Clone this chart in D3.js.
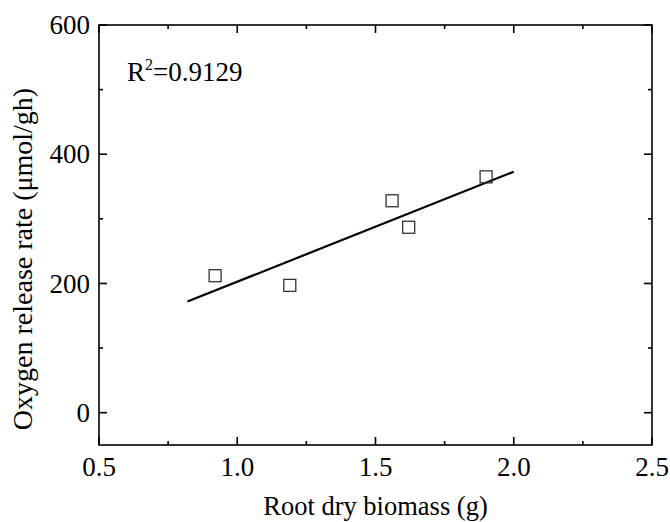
<!DOCTYPE html>
<html>
<head>
<meta charset="utf-8">
<script src="https://cdn.jsdelivr.net/npm/d3@7"></script>
<style>
  body { margin: 0; background: #fff; }
  svg text { font-family: "Liberation Serif", "Times New Roman", serif; fill: #000; }
</style>
</head>
<body>
<div id="chart"></div>
<script>
(function () {

    // measured points
    const biomass = [0.92, 1.19, 1.56, 1.62, 1.90]
    const oxygen = [212, 197, 328, 287, 365]

    // fitted line end points
    const fitX = [0.82, 2.0]
    const fitY = [172, 373]

    const xTicks = [0.5, 1.0, 1.5, 2.0, 2.5]
    const yTicks = [0, 200, 400, 600]
    const xMinor = [0.75, 1.25, 1.75, 2.25]
    const yMinor = [100, 300, 500]
    const r2Label = "0.9129"

    const width = 670, height = 522
    const margin = { top: 25, right: 18, bottom: 77, left: 99 }
    const serif = '"Liberation Serif", "Times New Roman", serif'

    const svg = d3.select("#chart")
        .append("svg")
        .attr("width", width)
        .attr("height", height)
        .attr("font-family", serif)

    const xScale = d3.scaleLinear()
        .domain([0.5, 2.5])
        .range([margin.left, width - margin.right])

    const yScale = d3.scaleLinear()
        .domain([-50, 600])
        .range([height - margin.bottom, margin.top])

    const x0 = xScale.range()[0], x1 = xScale.range()[1]
    const y0 = yScale.range()[0], y1 = yScale.range()[1]

    const axes = svg.append("g")
        .attr("stroke", "#000")
        .attr("stroke-width", 1.6)

    // frame
    axes.append("rect")
        .attr("x", x0).attr("y", y1)
        .attr("width", x1 - x0).attr("height", y0 - y1)
        .attr("fill", "none")

    // ticks pointing inwards on all four sides
    const tickSets = [
        { vals: xTicks, len: 8 },
        { vals: xMinor, len: 4 }
    ]
    tickSets.forEach(t => {
        axes.selectAll(null).data(t.vals).enter().append("line")
            .attr("x1", d => xScale(d)).attr("x2", d => xScale(d))
            .attr("y1", y0).attr("y2", y0 - t.len)
        axes.selectAll(null).data(t.vals).enter().append("line")
            .attr("x1", d => xScale(d)).attr("x2", d => xScale(d))
            .attr("y1", y1).attr("y2", y1 + t.len)
    })
    const yTickSets = [
        { vals: yTicks, len: 8 },
        { vals: yMinor, len: 4 }
    ]
    yTickSets.forEach(t => {
        axes.selectAll(null).data(t.vals).enter().append("line")
            .attr("y1", d => yScale(d)).attr("y2", d => yScale(d))
            .attr("x1", x0).attr("x2", x0 + t.len)
        axes.selectAll(null).data(t.vals).enter().append("line")
            .attr("y1", d => yScale(d)).attr("y2", d => yScale(d))
            .attr("x1", x1).attr("x2", x1 - t.len)
    })

    // tick labels
    svg.append("g").selectAll("text")
        .data(xTicks).enter().append("text")
        .attr("x", d => xScale(d))
        .attr("y", 476)
        .attr("text-anchor", "middle")
        .attr("font-size", 27)
        .text(d => d3.format(".1f")(d))

    svg.append("g").selectAll("text")
        .data(yTicks).enter().append("text")
        .attr("x", x0 - 9)
        .attr("y", d => yScale(d))
        .attr("dy", "0.34em")
        .attr("text-anchor", "end")
        .attr("font-size", 27)
        .text(d => d)

    // axis titles
    svg.append("text")
        .attr("x", (x0 + x1) / 2)
        .attr("y", 515)
        .attr("text-anchor", "middle")
        .attr("font-size", 26.5)
        .text("Root dry biomass (g)")

    svg.append("text")
        .attr("transform", "translate(32,259) rotate(-90)")
        .attr("text-anchor", "middle")
        .attr("font-size", 28)
        .text("Oxygen release rate (μmol/gh)")

    // fitted line
    svg.append("line")
        .attr("x1", xScale(fitX[0])).attr("y1", yScale(fitY[0]))
        .attr("x2", xScale(fitX[1])).attr("y2", yScale(fitY[1]))
        .attr("stroke", "#000")
        .attr("stroke-width", 2.2)

    // square markers
    const s = 12
    svg.append("g").selectAll("rect")
        .data(biomass).enter().append("rect")
        .attr("x", d => xScale(d) - s / 2)
        .attr("y", (d, i) => yScale(oxygen[i]) - s / 2)
        .attr("width", s).attr("height", s)
        .attr("fill", "none")
        .attr("stroke", "#333")
        .attr("stroke-width", 1.3)

    // R squared annotation
    const r2 = svg.append("text")
        .attr("x", 127)
        .attr("y", 81)
        .attr("font-size", 27)
    r2.append("tspan").text("R")
    r2.append("tspan").attr("font-size", 16).attr("dy", -11).text("2")
    r2.append("tspan").attr("dy", 11).text("=" + r2Label)

})()
</script>
</body>
</html>
